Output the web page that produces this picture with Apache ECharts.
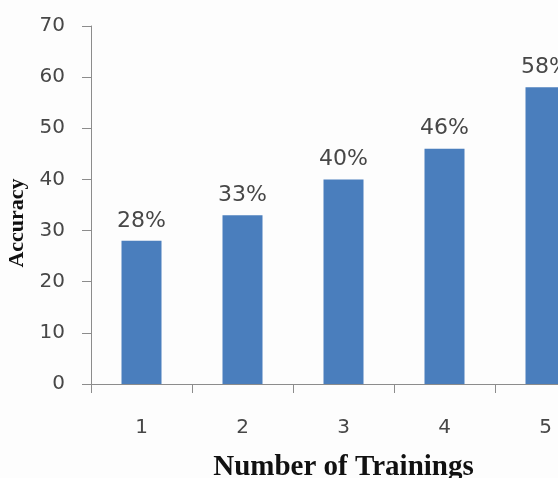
<!DOCTYPE html>
<html><head><meta charset="utf-8">
<script src="https://cdn.jsdelivr.net/npm/echarts@6/dist/echarts.min.js"></script>
<style>html,body{margin:0;padding:0;background:#fdfdfd;}#c{width:558px;height:478px;}</style>
</head><body><div id="c"></div>
<script>
const categories = ['1', '2', '3', '4', '5'];
const accuracy = [28, 33, 40, 46, 58];
const yTicks = [0, 10, 20, 30, 40, 50, 60, 70];

const chart = echarts.init(document.getElementById('c'));
chart.setOption({
  backgroundColor: '#fdfdfd',
  animation: false,
  grid: { left: 91, top: 26, width: 505, height: 358, containLabel: false, outerBoundsMode: 'none' },
  xAxis: {
    type: 'category',
    data: categories,
    name: 'Number of Trainings',
    nameLocation: 'middle',
    nameGap: 69,
    nameTextStyle: { fontFamily: 'Liberation Serif', fontWeight: 'bold', fontSize: 29, color: '#111' },
    axisLine: { lineStyle: { color: '#8c8c8c', width: 1 } },
    axisTick: { show: true, length: 9, inside: false, lineStyle: { color: '#8c8c8c' } },
    axisLabel: { fontFamily: 'DejaVu Sans', fontSize: 20, color: '#474747', margin: 34 }
  },
  yAxis: {
    type: 'value',
    min: yTicks[0],
    max: yTicks[yTicks.length - 1],
    interval: 10,
    name: 'Accuracy',
    nameLocation: 'middle',
    nameGap: 55,
    nameTextStyle: { fontFamily: 'Liberation Serif', fontWeight: 'bold', fontSize: 22, color: '#111', padding: [0, 0, 0, -36] },
    axisLine: { show: true, lineStyle: { color: '#8c8c8c', width: 1 } },
    axisTick: { show: true, length: 9, lineStyle: { color: '#8c8c8c' } },
    splitLine: { show: false },
    axisLabel: { fontFamily: 'DejaVu Sans', fontSize: 20, color: '#474747', margin: 26 }
  },
  series: [{
    type: 'bar',
    data: accuracy,
    barWidth: 40,
    itemStyle: { color: '#4a7ebd' },
    label: {
      show: true,
      position: 'top',
      distance: 9,
      formatter: p => p.value + '%',
      fontFamily: 'DejaVu Sans',
      fontSize: 22,
      color: '#474747'
    }
  }]
});
</script></body></html>
